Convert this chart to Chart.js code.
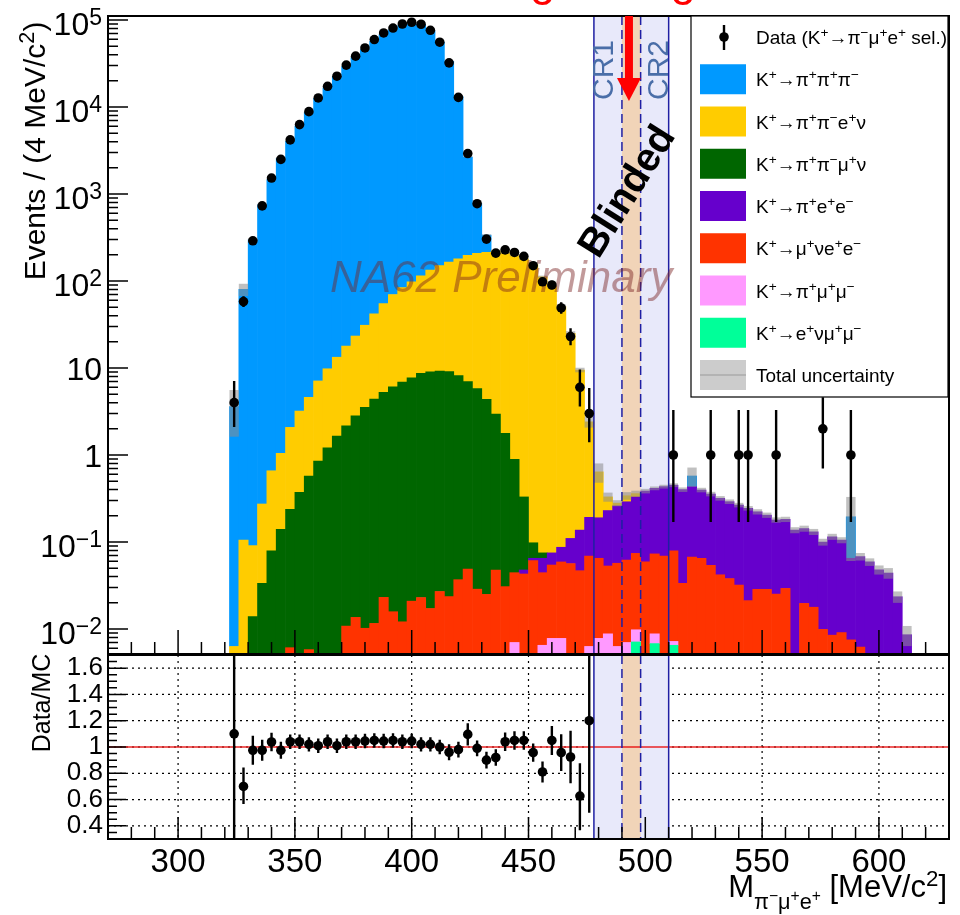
<!DOCTYPE html>
<html>
<head>
<meta charset="utf-8">
<script src="https://cdn.jsdelivr.net/npm/chart.js"></script>
<style>
  html, body { margin:0; padding:0; background:#ffffff; }
  #wrap { position:relative; width:960px; height:915px; overflow:hidden; background:#ffffff; }
  canvas { position:absolute; left:0; }
  #mainCanvas { top:0; }
  #ratioCanvas { top:640px; }
</style>
</head>
<body>
<div id="wrap">
  <canvas id="mainCanvas" width="960" height="660" style="width:960px;height:660px"></canvas>
  <canvas id="ratioCanvas" width="960" height="275" style="width:960px;height:275px"></canvas>
</div>
<script>
const FONT = '"Liberation Sans", Helvetica, Arial, sans-serif';
const N = null;

// ---------------- data (4 MeV/c^2 bins, centres) ----------------
const binCenters = [324,328,332,336,340,344,348,352,356,360,
  364,368,372,376,380,384,388,392,396,400,
  404,408,412,416,420,424,428,432,436,440,
  444,448,452,456,460,464,468,472,476,480,
  484,488,492,496,500,504,508,512,516,520,
  524,528,532,536,540,544,548,552,556,560,
  564,568,572,576,580,584,588,592,596,600,
  604,608,612];

const kPiPiPi = [3.6,80,297,749,1468,2563,4027,6035,8662,12567,
  16625,22363,29117,36900,45615,56720,67888,76978,86454,90046,
  87532,74572,55450,33377,12983,2467,574,123,N,N,
  N,N,N,N,N,N,N,N,N,N,
  N,N,N,N,N,N,N,N,N,0.141,
  N,N,N,N,N,N,N,N,N,N,
  N,N,N,N,N,N,0.13,N,N,N,
  N,N,N];

const kPiPiENu = [0.0063,0.105,0.077,0.24,0.58,0.905,1.84,2.83,4.03,6.25,
  8.59,11.65,15.7,20.5,27.5,37.6,49.8,63.9,77.1,90.3,
  106.3,124.9,140.8,155.9,171.8,190,202.2,209.6,219,210.2,
  197.1,179.7,154.9,111.9,86.9,50.9,24.9,9.36,2.21,0.45,
  0.10,0.02,0.05,0.03,N,N,N,N,N,N,
  N,N,N,N,N,N,N,N,N,N,
  N,N,N,N,N,N,N,N,N,N,
  N,N,N];

const kPiPiMuNu = [N,N,0.0139,0.0335,0.079,0.14,0.232,0.372,0.568,0.853,
  1.21,1.65,2.16,2.80,3.52,4.39,5.23,6.08,6.89,7.68,
  8.68,9.05,9.22,9.05,8.13,6.92,5.77,4.35,2.91,1.74,
  0.846,0.282,0.033,0.01,N,N,N,N,N,N,
  N,N,N,N,N,N,N,N,N,N,
  N,N,N,N,N,N,N,N,N,N,
  N,N,N,N,N,N,N,N,N,N,
  N,N,N];

const kPiEE = [N,N,N,N,N,N,N,N,N,N,
  N,N,N,N,N,N,N,N,N,N,
  N,N,N,N,N,N,N,N,N,N,
  N,0.0048,0.004,0.0206,0.0206,0.028,0.0534,0.0902,0.123,0.125,
  0.177,0.203,0.228,0.256,0.326,0.341,0.364,0.371,0.3665,0.366,
  0.331,0.302,0.276,0.253,0.234,0.223,0.194,0.175,0.154,0.153,
  0.137,0.123,0.113,0.090,0.1065,0.096,0.0575,0.0618,0.059,0.048,
  0.044,0.0235,0.0086];

const kMuNuEE = [N,N,N,N,N,N,0.0061,N,0.0058,N,
  N,N,0.0108,0.0136,0.0102,0.0116,0.0231,0.0158,0.0121,0.0209,
  0.023,0.0172,0.027,0.0236,0.0369,0.0488,0.0287,0.025,0.0477,0.0307,
  0.0374,0.0429,0.061,0.0379,0.0466,0.0512,0.0566,0.0468,0.0627,0.0572,
  0.0442,0.0507,0.055,0.0642,0.059,0.0642,0.069,0.0718,0.0335,0.067,
  0.065,0.054,0.042,0.038,0.032,0.0212,0.0286,0.0286,0.0252,0.0293,
  N,0.0197,0.0178,0.0099,0.0085,0.0091,0.0075,0.0062,N,N,
  N,N,N];

const kPiMuMu = [N,N,N,N,N,N,N,N,N,N,
  N,N,N,N,N,N,N,N,N,N,
  N,N,N,N,N,N,N,N,N,N,
  0.007,N,N,0.0065,0.0078,0.0078,N,N,0.0063,0.0078,
  0.0088,0.0063,0.007,0.0027,N,0.002,N,0.0007,N,N,
  N,N,N,N,N,N,N,N,N,N,
  N,N,N,N,N,N,N,N,N,N,
  N,N,N];

const kENuMuMu = [N,N,N,N,N,N,N,N,N,N,
  N,N,N,N,N,N,N,N,N,N,
  N,N,N,N,N,N,N,N,N,N,
  N,N,N,N,N,N,N,N,N,N,
  N,N,N,0.0071,N,0.0068,N,0.0065,N,N,
  N,N,N,N,N,N,N,N,N,N,
  N,N,N,N,N,N,N,N,N,N,
  N,N,N];

// relative total MC uncertainty per bin
const mcRelErr = [0.55,0.16,0.05,0.03,0.02,0.02,0.01,0.01,0.01,0.01,
  0.01,0.01,0.01,0.01,0.01,0.01,0.01,0.01,0.01,0.01,
  0.01,0.01,0.01,0.01,0.01,0.01,0.01,0.02,0.03,0.03,
  0.03,0.03,0.03,0.03,0.03,0.05,0.06,0.06,0.14,0.25,
  0.12,0.08,0.10,0.08,0.06,0.05,0.05,0.05,0.06,0.25,
  0.06,0.06,0.06,0.06,0.06,0.06,0.07,0.07,0.07,0.07,
  0.08,0.08,0.08,0.09,0.08,0.08,0.69,0.10,0.10,0.12,
  0.14,0.15,0.26];

// data
const dataX = [324,328,332,336,340,344,348,352,356,360,
  364,368,372,376,380,384,388,392,396,400,
  404,408,412,416,420,424,428,432,436,440,
  444,448,452,456,460,464,468,472,476,
  512,528,540,544,556,576,588];
const dataY = [4,58,290,730,1525,2500,4190,6280,8840,12700,
  17300,22600,30300,38400,47700,59600,71000,80900,90000,94200,
  89400,76200,55600,32200,12900,2920,774,303,209,228,
  213,192,150,98,90,49,23,6,3,
  1,1,1,1,1,2,1];
const dataErrLo = [1.9,7.6,17,27,39,50,65,79,94,113,
  132,150,174,196,218,244,266,284,300,307,
  299,276,236,179,114,54,28,17,14,15,
  15,14,12,10,9.5,7,4.7,2.4,1.6,
  0.83,0.83,0.83,0.83,0.83,1.3,0.83];
const dataErrHi = [3.1,8.6,18,28,40,51,65,79,94,113,
  132,150,174,196,218,244,266,284,300,307,
  299,276,236,179,114,54,28,18,15,16,
  15,15,13,11,10.5,8,5.7,3.6,2.9,
  2.3,2.3,2.3,2.3,2.3,2.6,2.3];

// Data / MC
const ratioX = [324,328,332,336,340,344,348,352,356,360,
  364,368,372,376,380,384,388,392,396,400,
  404,408,412,416,420,424,428,432,436,440,
  444,448,452,456,460,464,468,472,476];
const ratioY = [1.10,0.70,0.975,0.975,1.038,0.975,1.04,1.04,1.02,1.01,
  1.04,1.01,1.04,1.04,1.045,1.05,1.045,1.05,1.04,1.045,
  1.02,1.02,1.00,0.96,0.98,1.096,0.99,0.90,0.92,1.04,
  1.05,1.05,0.957,0.81,1.05,0.957,0.924,0.627,1.20];
const ratioErrLo = [0.9,0.134,0.11,0.08,0.07,0.065,0.055,0.055,0.055,0.055,
  0.055,0.055,0.055,0.055,0.055,0.055,0.055,0.055,0.055,0.055,
  0.055,0.055,0.055,0.06,0.06,0.085,0.06,0.063,0.063,0.07,
  0.07,0.07,0.07,0.08,0.11,0.14,0.2,0.26,0.7];
const ratioErrHi = [1.0,0.144,0.11,0.08,0.07,0.065,0.055,0.055,0.055,0.055,
  0.055,0.055,0.055,0.055,0.055,0.055,0.055,0.055,0.055,0.055,
  0.055,0.055,0.055,0.06,0.06,0.085,0.06,0.063,0.063,0.07,
  0.07,0.07,0.07,0.08,0.11,0.14,0.2,0.25,0.9];

// axes / labels
const xTicks = [300,350,400,450,500,550,600];
const xTickLabels = ['300','350','400','450','500','550','600'];
const mainYTicks = [0.01,0.1,1,10,100,1000,10000,100000];
const mainYTickLabels = [['10','−2'],['10','−1'],['1',''],['10',''],['10','2'],['10','3'],['10','4'],['10','5']];
const ratioYTicks = [0.4,0.6,0.8,1,1.2,1.4,1.6];
const ratioYTickLabels = ['0.4','0.6','0.8','1','1.2','1.4','1.6'];
const seriesLabels = ['K^{+}→π^{+}π^{+}π^{−}','K^{+}→π^{+}π^{−}e^{+}ν','K^{+}→π^{+}π^{−}μ^{+}ν',
  'K^{+}→π^{+}e^{+}e^{−}','K^{+}→μ^{+}νe^{+}e^{−}','K^{+}→π^{+}μ^{+}μ^{−}','K^{+}→e^{+}νμ^{+}μ^{−}'];
const dataLabel = 'Data (K^{+}→π^{−}μ^{+}e^{+} sel.)';
const uncLabel = 'Total uncertainty';
const seriesColors = ['#0099ff','#ffcc00','#006600','#6600cc','#ff3300','#ff99ff','#00ff99'];

// regions (MeV/c^2)
const crSpan = [478, 510];
const blindSpan = [490, 498];
const solidLines = [478, 510];
const dashedLines = [490, 498];
const arrowMass = 493;

const X_MIN = 270, X_MAX = 630;
const Y_MIN = 0.00516, Y_MAX = 111200;
const R_MIN = 0.3, R_MAX = 1.7;

const CR_FILL = '#e8e9fa';
const BLIND_FILL = '#f1d4b8';
const LINE_BLUE = '#1f1fa3';
const CR_TEXT = '#4a6ea8';
const UNC_FILL = 'rgba(140,140,140,0.55)';

// ---------------- rich text helper ----------------
function richSegs(str, size, dy, out) {
  let buf = '';
  const flush = () => { if (buf) { out.push({ t: buf, size: size, dy: dy }); buf = ''; } };
  for (let i = 0; i < str.length; ) {
    const ch = str[i];
    if ((ch === '^' || ch === '_') && str[i + 1] === '{') {
      flush();
      let depth = 1, j = i + 2;
      while (j < str.length && depth > 0) {
        if (str[j] === '{') depth++;
        else if (str[j] === '}') depth--;
        j++;
      }
      const inner = str.slice(i + 2, j - 1);
      if (ch === '^') richSegs(inner, size * 0.72, dy - size * 0.36, out);
      else richSegs(inner, size * 0.7, dy + size * 0.38, out);
      i = j;
    } else { buf += ch; i++; }
  }
  flush();
  return out;
}
function drawRich(ctx, str, x, y, size, align, prefix) {
  prefix = prefix || '';
  const segs = richSegs(str, size, 0, []);
  let total = 0;
  for (const s of segs) { ctx.font = prefix + s.size + 'px ' + FONT; s.w = ctx.measureText(s.t).width; total += s.w; }
  let cx = align === 'right' ? x - total : (align === 'center' ? x - total / 2 : x);
  ctx.textAlign = 'left'; ctx.textBaseline = 'alphabetic';
  for (const s of segs) { ctx.font = prefix + s.size + 'px ' + FONT; ctx.fillText(s.t, cx, y + s.dy); cx += s.w; }
  return total;
}

function drawRegionShading(ctx, x, top, bottom) {
  const l = x.getPixelForValue(crSpan[0]), r = x.getPixelForValue(crSpan[1]);
  ctx.fillStyle = CR_FILL; ctx.fillRect(l, top, r - l, bottom - top);
  const bl = x.getPixelForValue(blindSpan[0]), br = x.getPixelForValue(blindSpan[1]);
  ctx.fillStyle = BLIND_FILL; ctx.fillRect(bl, top, br - bl, bottom - top);
}
function drawRegionLines(ctx, x, top, bottom) {
  ctx.strokeStyle = LINE_BLUE; ctx.lineWidth = 1.5;
  ctx.setLineDash([]);
  ctx.beginPath();
  solidLines.forEach(v => { const px = x.getPixelForValue(v); ctx.moveTo(px, top); ctx.lineTo(px, bottom); });
  ctx.stroke();
  ctx.setLineDash([9, 5]);
  ctx.beginPath();
  dashedLines.forEach(v => { const px = x.getPixelForValue(v); ctx.moveTo(px, top); ctx.lineTo(px, bottom); });
  ctx.stroke();
  ctx.setLineDash([]);
}

// ---------------- main panel ----------------
const stackOrder = [
  { arr: kENuMuMu, c: 6 }, { arr: kPiMuMu, c: 5 }, { arr: kMuNuEE, c: 4 }, { arr: kPiEE, c: 3 },
  { arr: kPiPiMuNu, c: 2 }, { arr: kPiPiENu, c: 1 }, { arr: kPiPiPi, c: 0 }
];
const stackSets = stackOrder.map(s => ({
  type: 'bar',
  label: seriesLabels[s.c],
  data: binCenters.map((c, i) => ({ x: c, y: s.arr[i] })),
  backgroundColor: seriesColors[s.c],
  borderWidth: 0,
  grouped: false,
  barPercentage: 1,
  categoryPercentage: 1,
  yAxisID: 'y',
  order: 2,
  clip: 0
}));
const mcTotal = binCenters.map((c, i) => stackOrder.reduce((acc, s) => acc + (s.arr[i] || 0), 0));
const uncSet = {
  type: 'bar',
  label: uncLabel,
  data: binCenters.map((c, i) => ({ x: c, y: [mcTotal[i] * (1 - mcRelErr[i]), mcTotal[i] * (1 + mcRelErr[i])] })),
  backgroundColor: UNC_FILL,
  borderWidth: 0,
  grouped: false,
  barPercentage: 1,
  categoryPercentage: 1,
  inflateAmount: 0,
  yAxisID: 'y2',
  order: 1,
  clip: 0
};
const dataSet = {
  type: 'scatter',
  label: 'Data',
  data: dataX.map((v, i) => ({ x: v, y: dataY[i] })),
  yAxisID: 'y2',
  pointRadius: 4.8,
  pointHoverRadius: 4.8,
  pointBackgroundColor: '#000',
  pointBorderWidth: 0,
  order: 0
};
const UNC_INDEX = stackSets.length;

const mainDecor = {
  id: 'mainDecor',
  beforeDatasetsDraw(chart) {
    const { ctx, chartArea: a, scales: { x } } = chart;
    ctx.save();
    drawRegionShading(ctx, x, a.top, a.bottom);
    ctx.restore();
  },
  afterDatasetDraw(chart, args) {
    if (args.index !== UNC_INDEX) return;
    const { ctx, chartArea: a, scales: { x } } = chart;
    ctx.save();
    drawRegionLines(ctx, x, a.top, a.bottom);
    // CR labels
    ctx.fillStyle = CR_TEXT;
    ctx.font = '30px ' + FONT;
    ctx.textAlign = 'left'; ctx.textBaseline = 'alphabetic';
    ctx.save(); ctx.translate(x.getPixelForValue(crSpan[0]) + 19, 100); ctx.rotate(-Math.PI / 2); ctx.fillText('CR1', 0, 0); ctx.restore();
    ctx.save(); ctx.translate(x.getPixelForValue(crSpan[1]) - 1, 100); ctx.rotate(-Math.PI / 2); ctx.fillText('CR2', 0, 0); ctx.restore();
    // Blinded
    ctx.save();
    ctx.translate(628, 192); ctx.rotate(-58 * Math.PI / 180);
    ctx.fillStyle = '#000'; ctx.font = 'bold 40px ' + FONT; ctx.textAlign = 'center'; ctx.textBaseline = 'middle';
    ctx.fillText('Blinded', 0, 0);
    ctx.restore();
    // NA62 Preliminary
    ctx.fillStyle = 'rgba(120,30,30,0.45)';
    ctx.font = 'italic 44px ' + FONT; ctx.textAlign = 'left'; ctx.textBaseline = 'alphabetic';
    ctx.fillText('NA62 Preliminary', 330, 292);
    ctx.restore();
  },
  afterDatasetsDraw(chart) {
    const { ctx, chartArea: a, scales: { x, y2 } } = chart;
    ctx.save();
    ctx.beginPath(); ctx.rect(a.left, a.top, a.right - a.left, a.bottom - a.top); ctx.clip();
    ctx.strokeStyle = '#000'; ctx.lineWidth = 2.4;
    ctx.beginPath();
    dataX.forEach((v, i) => {
      const px = x.getPixelForValue(v);
      ctx.moveTo(px, y2.getPixelForValue(dataY[i] - dataErrLo[i]));
      ctx.lineTo(px, y2.getPixelForValue(dataY[i] + dataErrHi[i]));
    });
    ctx.stroke();
    ctx.restore();
  },
  afterDraw(chart) {
    const { ctx, chartArea: a, scales: { x, y } } = chart;
    ctx.save();
    // ticks
    ctx.strokeStyle = '#000'; ctx.lineWidth = 1.5;
    ctx.beginPath();
    for (let v = X_MIN; v <= X_MAX; v += 10) {
      const px = x.getPixelForValue(v);
      const len = (v % 50 === 0) ? 24 : 12;
      ctx.moveTo(px, a.bottom); ctx.lineTo(px, a.bottom - len);
    }
    for (let d = -3; d <= 5; d++) {
      for (let k = 1; k <= 9; k++) {
        const v = k * Math.pow(10, d);
        if (v < Y_MIN || v > Y_MAX) continue;
        const py = y.getPixelForValue(v);
        ctx.moveTo(a.left, py); ctx.lineTo(a.left + (k === 1 ? 20 : 10), py);
      }
    }
    ctx.stroke();
    // frame
    ctx.lineWidth = 2;
    ctx.strokeRect(a.left, a.top, a.right - a.left, a.bottom - a.top);
    // y tick labels
    ctx.fillStyle = '#000'; ctx.textBaseline = 'alphabetic'; ctx.textAlign = 'left';
    mainYTicks.forEach((v, i) => {
      const py = y.getPixelForValue(v);
      const base = mainYTickLabels[i][0], ex = mainYTickLabels[i][1];
      const R = 102;
      if (ex) {
        ctx.font = '23px ' + FONT; const ew = ctx.measureText(ex).width;
        ctx.font = '32px ' + FONT; const bw = ctx.measureText(base).width;
        ctx.fillText(base, R - ew - bw, py + 15);
        ctx.font = '23px ' + FONT; ctx.fillText(ex, R - ew, py + 15 - 10.5);
      } else {
        ctx.font = '32px ' + FONT; const bw = ctx.measureText(base).width;
        ctx.fillText(base, R - bw, py + 11.5);
      }
    });
    // y title
    ctx.save();
    ctx.translate(45, 151); ctx.rotate(-Math.PI / 2);
    ctx.fillStyle = '#000';
    drawRich(ctx, 'Events / (4 MeV/c^{2})', 0, 0, 30, 'center');
    ctx.restore();
    // legend
    const lx = 691, ly = 16, lw = 257, lh = 381;
    ctx.fillStyle = '#fff'; ctx.fillRect(lx, ly, lw, lh);
    ctx.strokeStyle = '#000'; ctx.lineWidth = 1.2; ctx.strokeRect(lx, ly, lw, lh);
    const entries = [dataLabel].concat(seriesLabels, [uncLabel]);
    entries.forEach((lab, i) => {
      const cy = 37 + i * 42.25;
      if (i === 0) {
        ctx.strokeStyle = '#000'; ctx.lineWidth = 2.4;
        ctx.beginPath(); ctx.moveTo(724, cy - 12); ctx.lineTo(724, cy + 13); ctx.stroke();
        ctx.fillStyle = '#000'; ctx.beginPath(); ctx.arc(724, cy, 4.8, 0, Math.PI * 2); ctx.fill();
      } else if (i === entries.length - 1) {
        ctx.fillStyle = '#cccccc'; ctx.fillRect(700, cy - 15, 46, 30);
        ctx.strokeStyle = '#999999'; ctx.lineWidth = 1.2;
        ctx.beginPath(); ctx.moveTo(700, cy); ctx.lineTo(746, cy); ctx.stroke();
      } else {
        ctx.fillStyle = seriesColors[i - 1]; ctx.fillRect(700, cy - 15, 46, 30);
      }
      ctx.fillStyle = '#000';
      drawRich(ctx, lab, 756, cy + 7, 19, 'left');
    });
    // arrow
    const ax = x.getPixelForValue(arrowMass);
    ctx.fillStyle = '#ff0000';
    ctx.fillRect(ax - 4, a.top, 8, 64);
    ctx.beginPath(); ctx.moveTo(ax - 12, 78); ctx.lineTo(ax + 12, 78); ctx.lineTo(ax, 101); ctx.closePath(); ctx.fill();
    // (cut) title
    ctx.fillStyle = '#ff0000'; ctx.font = '46px ' + FONT; ctx.textAlign = 'left'; ctx.textBaseline = 'alphabetic';
    ctx.fillText('Signal region', 489, -4.7);
    ctx.restore();
  }
};

new Chart(document.getElementById('mainCanvas'), {
  type: 'bar',
  data: { datasets: stackSets.concat([uncSet, dataSet]) },
  options: {
    responsive: false,
    animation: false,
    devicePixelRatio: 1,
    events: [],
    layout: { padding: { left: 108, top: 16, right: 11, bottom: 6 } },
    plugins: { legend: { display: false }, tooltip: { enabled: false } },
    scales: {
      x: { type: 'linear', min: X_MIN, max: X_MAX, offset: false, display: false },
      y: { type: 'logarithmic', min: Y_MIN, max: Y_MAX, stacked: true, display: false },
      y2: { type: 'logarithmic', min: Y_MIN, max: Y_MAX, display: false }
    }
  },
  plugins: [mainDecor]
});

// ---------------- ratio panel ----------------
const ratioDecor = {
  id: 'ratioDecor',
  beforeDatasetsDraw(chart) {
    const { ctx, chartArea: a, scales: { x, y } } = chart;
    ctx.save();
    ctx.strokeStyle = '#000'; ctx.lineWidth = 1.2; ctx.setLineDash([2, 4]);
    ctx.beginPath();
    xTicks.forEach(v => { const px = x.getPixelForValue(v); ctx.moveTo(px, a.top); ctx.lineTo(px, a.bottom); });
    ratioYTicks.forEach(v => { const py = y.getPixelForValue(v); ctx.moveTo(a.left, py); ctx.lineTo(a.right, py); });
    ctx.stroke(); ctx.setLineDash([]);
    drawRegionShading(ctx, x, a.top, a.bottom);
    ctx.strokeStyle = 'rgba(230,0,0,0.85)'; ctx.lineWidth = 1.5;
    ctx.beginPath(); const p1 = y.getPixelForValue(1); ctx.moveTo(a.left, p1); ctx.lineTo(a.right, p1); ctx.stroke();
    drawRegionLines(ctx, x, a.top, a.bottom);
    ctx.restore();
  },
  afterDatasetsDraw(chart) {
    const { ctx, chartArea: a, scales: { x, y } } = chart;
    ctx.save();
    ctx.beginPath(); ctx.rect(a.left, a.top, a.right - a.left, a.bottom - a.top); ctx.clip();
    ctx.strokeStyle = '#000'; ctx.lineWidth = 2.4;
    ctx.beginPath();
    ratioX.forEach((v, i) => {
      const px = x.getPixelForValue(v);
      ctx.moveTo(px, y.getPixelForValue(ratioY[i] - ratioErrLo[i]));
      ctx.lineTo(px, y.getPixelForValue(ratioY[i] + ratioErrHi[i]));
    });
    ctx.stroke();
    ctx.restore();
  },
  afterDraw(chart) {
    const { ctx, chartArea: a, scales: { x, y } } = chart;
    ctx.save();
    ctx.strokeStyle = '#000'; ctx.lineWidth = 1.5;
    ctx.beginPath();
    for (let v = X_MIN; v <= X_MAX; v += 10) {
      const px = x.getPixelForValue(v);
      const len = (v % 50 === 0) ? 22 : 12;
      ctx.moveTo(px, a.bottom); ctx.lineTo(px, a.bottom - len);
    }
    for (let k = 6; k <= 34; k++) {
      const py = y.getPixelForValue(k * 0.05);
      ctx.moveTo(a.left, py); ctx.lineTo(a.left + (k % 4 === 0 ? 18 : 9), py);
    }
    ctx.stroke();
    ctx.lineWidth = 2;
    ctx.strokeRect(a.left, a.top, a.right - a.left, a.bottom - a.top);
    ctx.fillStyle = '#000';
    drawRich(ctx, 'M_{π^{−}μ^{+}e^{+}} [MeV/c^{2}]', 947, 257, 31, 'right');
    ctx.save();
    ctx.translate(49.5, 63); ctx.rotate(-Math.PI / 2);
    drawRich(ctx, 'Data/MC', 0, 0, 25, 'center');
    ctx.restore();
    ctx.restore();
  }
};

new Chart(document.getElementById('ratioCanvas'), {
  type: 'scatter',
  data: {
    datasets: [{
      label: 'Data/MC',
      data: ratioX.map((v, i) => ({ x: v, y: ratioY[i] })),
      pointRadius: 4.8,
      pointHoverRadius: 4.8,
      pointBackgroundColor: '#000',
      pointBorderWidth: 0
    }]
  },
  options: {
    responsive: false,
    animation: false,
    devicePixelRatio: 1,
    events: [],
    layout: { padding: { left: 0, top: 15, right: 11, bottom: 0 } },
    plugins: { legend: { display: false }, tooltip: { enabled: false } },
    scales: {
      x: {
        type: 'linear', min: X_MIN, max: X_MAX, position: 'bottom', offset: false,
        grid: { display: false, drawTicks: false }, border: { display: false },
        afterBuildTicks: s => { s.ticks = xTicks.map(v => ({ value: v })); },
        afterFit: s => { s.height = 76; s.paddingLeft = 0; s.paddingRight = 0; },
        ticks: { autoSkip: false, maxRotation: 0, padding: 4, color: '#000',
          font: { family: FONT, size: 33 }, callback: (v, i) => xTickLabels[i] }
      },
      y: {
        type: 'linear', min: R_MIN, max: R_MAX, position: 'left',
        grid: { display: false, drawTicks: false }, border: { display: false },
        afterBuildTicks: s => { s.ticks = ratioYTicks.map(v => ({ value: v })); },
        afterFit: s => { s.width = 108; s.paddingTop = 0; s.paddingBottom = 0; },
        ticks: { autoSkip: false, padding: 5, color: '#000',
          font: { family: FONT, size: 26, lineHeight: 1 }, callback: (v, i) => ratioYTickLabels[i] }
      }
    }
  },
  plugins: [ratioDecor]
});
</script>
</body>
</html>
